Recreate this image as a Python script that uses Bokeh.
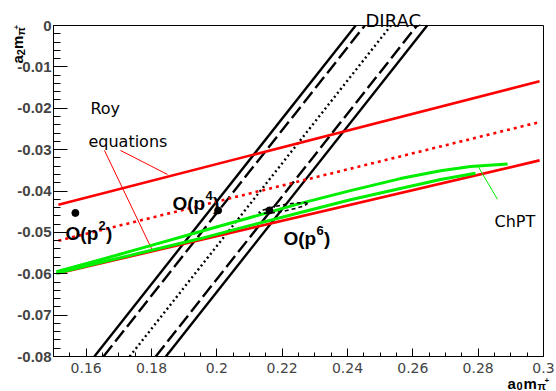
import math
import numpy as np
from bokeh.plotting import figure
from bokeh.models import Label, FixedTicker, Range1d, LinearAxis
from bokeh.embed import file_html
from bokeh.resources import INLINE

# ---------------- data ----------------
x_lo, x_hi = 0.15, 0.30
y_lo, y_hi = -0.08, 0.0
x_ticks = [0.16, 0.18, 0.2, 0.22, 0.24, 0.26, 0.28, 0.3]
x_tick_labels = ["0.16", "0.18", "0.2", "0.22", "0.24", "0.26", "0.28", "0.3"]
y_ticks = [0, -0.01, -0.02, -0.03, -0.04, -0.05, -0.06, -0.07, -0.08]
y_tick_labels = ["0", "-0.01", "-0.02", "-0.03", "-0.04", "-0.05", "-0.06", "-0.07", "-0.08"]

# Roy equations band (a0, a2)
roy_x = [0.1515, 0.2988]
roy_upper = [-0.0433, -0.0135]
roy_lower = [-0.0599, -0.0326]
roy_center_x = [0.1515, 0.2985]
roy_center = [-0.0520, -0.0234]

# DIRAC |a0 - a2| measurement
dirac_central = 0.2533
dirac_stat = [0.0080, 0.0080]     # (-, +)
dirac_total = [0.0108, 0.0111]    # (-, +)

# ChPT band
chpt_upper_x = [0.1509, 0.1644, 0.1797, 0.1950, 0.2103, 0.2256, 0.2409, 0.2562, 0.2685, 0.2777, 0.2890]
chpt_upper_y = [-0.0595, -0.0566, -0.0532, -0.0498, -0.0464, -0.0430, -0.0399, -0.0370, -0.0351, -0.0341, -0.0335]
chpt_lower_x = [0.1509, 0.1644, 0.1797, 0.1950, 0.2103, 0.2256, 0.2409, 0.2562, 0.2685, 0.2792]
chpt_lower_y = [-0.0599, -0.0573, -0.0544, -0.0515, -0.0483, -0.0452, -0.0421, -0.0394, -0.0372, -0.0357]

# two-loop ChPT error ellipse
ell_x = [0.2278, 0.2268, 0.2241, 0.2203, 0.2166, 0.2138, 0.2128, 0.2138, 0.2166, 0.2203, 0.2241, 0.2268, 0.2278]
ell_y = [-0.0430, -0.0428, -0.0429, -0.0433, -0.0440, -0.0447, -0.0452, -0.0454, -0.0453, -0.0449, -0.0442, -0.0436, -0.0430]

# ChPT orders O(p2), O(p4), O(p6)
pts_x = [0.1567, 0.2004, 0.2161]
pts_y = [-0.0453, -0.0447, -0.0447]

# annotation pointer lines
roy_ptr1_x = [0.1705, 0.1849]
roy_ptr1_y = [-0.0302, -0.0360]
roy_ptr2_x = [0.1656, 0.1803]
roy_ptr2_y = [-0.0302, -0.0544]
chpt_ptr_x = [0.2798, 0.2859]
chpt_ptr_y = [-0.0338, -0.0420]

# ---------------- layout ----------------
W, H = 556, 391
fl, fr, ft, fb = 53, 543, 25, 356   # pixel box of the axes
sx = (x_hi - x_lo) / (fr - fl)
sy = (y_hi - y_lo) / (fb - ft)
xr = Range1d(x_lo - fl * sx, x_hi + (W - fr) * sx)
yr = Range1d(y_lo - (H - fb) * sy, y_hi + ft * sy)

p = figure(width=W, height=H, output_backend="svg", toolbar_location=None,
           x_range=xr, y_range=yr, x_axis_location=None, y_axis_location=None,
           min_border=0)
p.min_border_left = p.min_border_right = p.min_border_top = p.min_border_bottom = 0
p.outline_line_color = None
p.background_fill_color = "white"
p.border_fill_color = "white"
p.grid.visible = False

x_minor = list(np.round(np.arange(x_lo, x_hi + 1e-4, 0.005), 4))
y_minor = list(np.round(np.arange(y_lo, y_hi + 1e-4, 0.002), 4))

xax = LinearAxis(fixed_location=y_lo, bounds=(x_lo, x_hi),
                 ticker=FixedTicker(ticks=x_ticks, minor_ticks=x_minor))
xax.major_label_overrides = dict(zip(x_ticks, x_tick_labels))
yax = LinearAxis(fixed_location=x_lo, bounds=(y_lo, y_hi),
                 ticker=FixedTicker(ticks=y_ticks, minor_ticks=y_minor))
yax.major_label_overrides = dict(zip(y_ticks, y_tick_labels))
for ax in (xax, yax):
    ax.axis_line_color = "black"
    ax.major_tick_line_color = "black"
    ax.minor_tick_line_color = "black"
    ax.major_tick_out = 0
    ax.minor_tick_out = 0
xax.major_tick_in = 8
xax.minor_tick_in = 4
yax.major_tick_in = 14
yax.minor_tick_in = 7
xax.major_label_text_font = "DejaVu Sans"
xax.major_label_text_font_size = "14px"
xax.major_label_standoff = 6
yax.major_label_text_font = "Liberation Sans"
yax.major_label_text_font_style = "bold"
yax.major_label_text_font_size = "15px"
yax.major_label_standoff = 2
p.add_layout(xax, "below")
p.add_layout(yax, "left")

# frame top / right edges
topax = LinearAxis(fixed_location=y_hi, bounds=(x_lo, x_hi), ticker=FixedTicker(ticks=[]),
                   major_label_text_font_size="0px", axis_line_color="black")
rightax = LinearAxis(fixed_location=x_hi, bounds=(y_lo, y_hi), ticker=FixedTicker(ticks=[]),
                     major_label_text_font_size="0px", axis_line_color="black")
p.add_layout(topax, "above")
p.add_layout(rightax, "right")

# DIRAC band: a2 = a0 - (a0 - a2)
dirac_vals = [dirac_central - dirac_total[0], dirac_central - dirac_stat[0], dirac_central,
              dirac_central + dirac_stat[1], dirac_central + dirac_total[1]]
dirac_dash = ["solid", "14 5", "2 3", "14 5", "solid"]
for c, d in zip(dirac_vals, dirac_dash):
    p.line([c + y_lo, c + y_hi], [y_lo, y_hi], line_color="black", line_width=2.4, line_dash=d)

# Roy band
p.line(roy_x, roy_upper, line_color="#ff0000", line_width=2.6)
p.line(roy_x, roy_lower, line_color="#ff0000", line_width=2.6)
p.line(roy_center_x, roy_center, line_color="#ff0000", line_width=2.6, line_dash="3 4")
p.line(roy_ptr1_x, roy_ptr1_y, line_color="#ff0000", line_width=1)
p.line(roy_ptr2_x, roy_ptr2_y, line_color="#ff0000", line_width=1)

# ChPT band
p.line(chpt_upper_x, chpt_upper_y, line_color="#00ee00", line_width=3, line_join="round")
p.line(chpt_lower_x, chpt_lower_y, line_color="#00ee00", line_width=3, line_join="round")
p.line(chpt_ptr_x, chpt_ptr_y, line_color="#00ee00", line_width=1)

# ellipse
p.line(ell_x, ell_y, line_color="black", line_width=1.5, line_dash="4 3")

# points
p.scatter(pts_x, pts_y, size=7, color="black")

def lab(x, y, t, size, font="DejaVu Sans", style="normal", angle=0, **kw):
    p.add_layout(Label(x=x, y=y, text=t, text_font=font, text_font_size=size,
                       text_font_style=style, text_color="black", angle=angle,
                       text_baseline="alphabetic", text_align="left", **kw))

lab(0.2455, 0.0012, "DIRAC", "18px")
lab(0.1613, -0.0201, "Roy", "16px")
lab(0.1607, -0.0280, "equations", "16px")
lab(0.2850, -0.0474, "ChPT", "16px")

B = "Liberation Sans"
for (bx, by, sup) in [(0.1537, -0.0503, "2"), (0.1864, -0.0430, "4"), (0.2204, -0.0515, "6")]:
    lab(bx, by, "O(p", "19px", font=B, style="bold")
    lab(bx, by, sup, "13px", font=B, style="bold", x_offset=33, y_offset=8)
    lab(bx, by, ")", "19px", font=B, style="bold", x_offset=40.5)

# y axis title (rotated)
r = math.pi / 2
lab(0.13898, -0.00918, "a", "15px", font=B, style="bold", angle=r)
lab(0.14020, -0.00718, "2", "11px", font=B, style="bold", angle=r)
lab(0.13898, -0.00570, "m", "15px", font=B, style="bold", angle=r)
lab(0.14020, -0.00242, "π", "11px", font=B, style="bold", angle=r)
lab(0.13867, -0.00097, "+", "8px", font=B, style="bold", angle=r)

# x axis title
lab(0.28898, -0.08653, "a", "15px", font=B, style="bold")
lab(0.29173, -0.08701, "0", "11px", font=B, style="bold")
lab(0.29388, -0.08653, "m", "15px", font=B, style="bold")
lab(0.29816, -0.08701, "π", "11px", font=B, style="bold")
lab(0.30031, -0.08580, "+", "8px", font=B, style="bold")

open("out.html", "w").write(file_html(p, INLINE))
